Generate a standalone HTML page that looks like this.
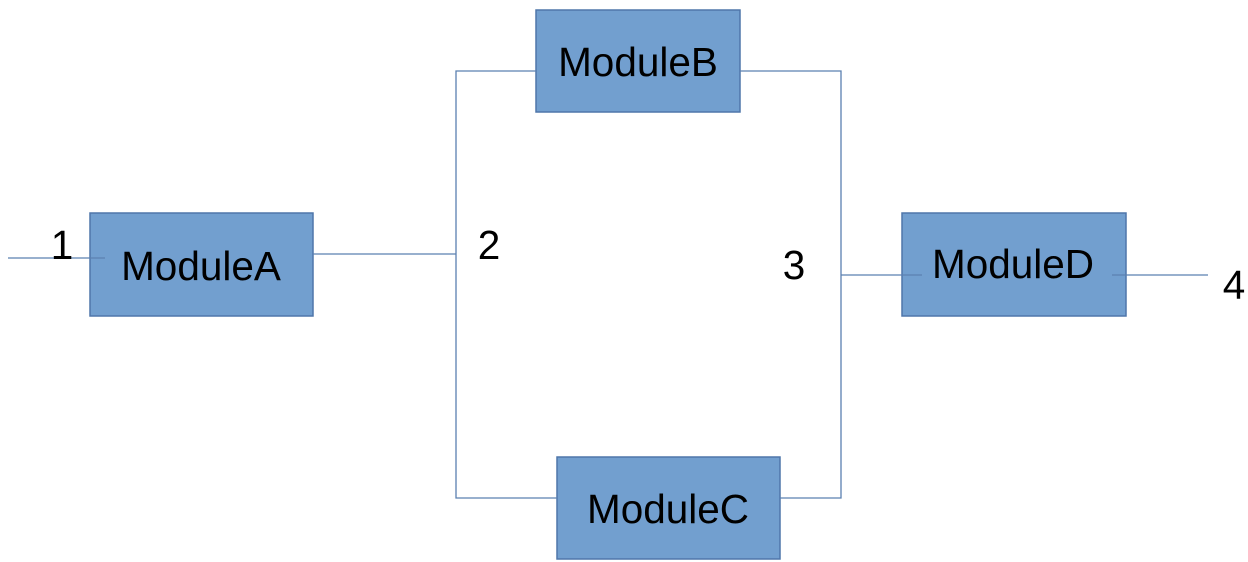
<!DOCTYPE html>
<html><head><meta charset="utf-8"><style>
html,body{margin:0;padding:0;background:#fff;}
svg{display:block;}
text{font-family:"Liberation Sans",sans-serif;font-size:40.5px;fill:#000;}
</style></head><body>
<svg width="1248" height="562" viewBox="0 0 1248 562">
<g fill="#729fcf" stroke="#4f76aa" stroke-width="1.5">
<rect x="90" y="213" width="223" height="103"/>
<rect x="536" y="10" width="204" height="102"/>
<rect x="557" y="457" width="223" height="102"/>
<rect x="902" y="213" width="224" height="103"/>
</g>
<g stroke="#5b80b0" stroke-width="1.3" fill="none">
<line x1="8" y1="258" x2="105" y2="258"/>
<line x1="313" y1="254" x2="456" y2="254"/>
<polyline points="536,71 456,71 456,498 557,498"/>
<polyline points="740,71 841,71 841,498 780,498"/>
<line x1="841" y1="275" x2="922" y2="275"/>
<line x1="1112" y1="275" x2="1208" y2="275"/>
</g>
<g text-anchor="middle">
<text x="201" y="280">ModuleA</text>
<text x="638" y="76">ModuleB</text>
<text x="668" y="523">ModuleC</text>
<text x="1013" y="278">ModuleD</text>
<text x="62" y="259">1</text>
<text x="489" y="259">2</text>
<text x="794" y="279">3</text>
<text x="1234" y="299">4</text>
</g>
</svg>
</body></html>
